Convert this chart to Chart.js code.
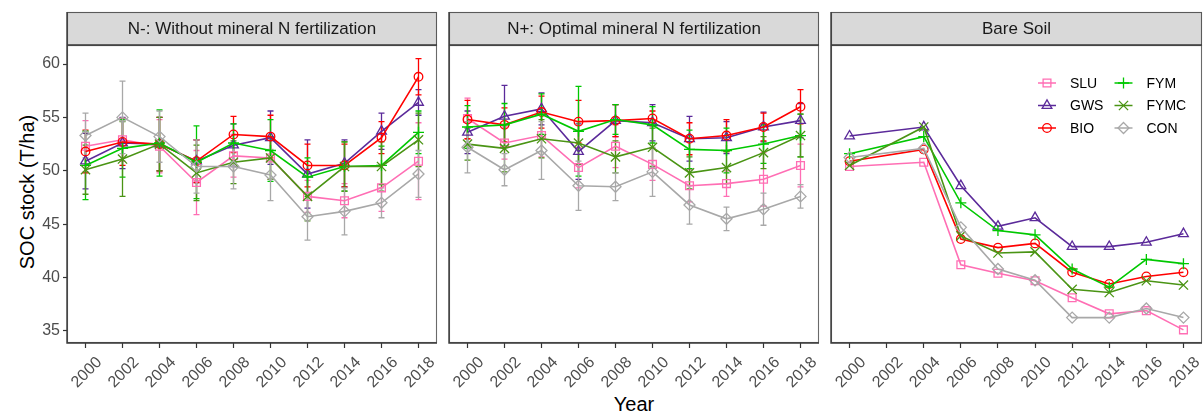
<!DOCTYPE html>
<html><head><meta charset="utf-8">
<script src="https://cdn.jsdelivr.net/npm/chart.js"></script>
<style>
html,body{margin:0;padding:0;background:#fff;width:1203px;height:416px;overflow:hidden;font-family:"Liberation Sans",Arial,Helvetica,sans-serif;}
canvas{position:absolute;top:0;}
#ytitle{position:absolute;left:27px;top:192px;transform:translate(-50%,-50%) rotate(-90deg);font-size:20px;white-space:nowrap;color:#000;}
#xtitle{position:absolute;left:634px;top:404px;transform:translate(-50%,-50%);font-size:20px;color:#000;white-space:nowrap;}
</style></head><body>
<div id="ytitle">SOC stock (T/ha)</div>
<div id="xtitle">Year</div>
<canvas id="c1"></canvas>
<canvas id="c2"></canvas>
<canvas id="c3"></canvas>
<script>
// ---------- data ----------
const years = [2000, 2002, 2004, 2006, 2008, 2010, 2012, 2014, 2016, 2018];
const yTicks = [35, 40, 45, 50, 55, 60];
const seriesNames = ['SLU', 'GWS', 'BIO', 'FYM', 'FYMC', 'CON'];
const panelTitles = ['N-: Without mineral N fertilization', 'N+: Optimal mineral N fertilization', 'Bare Soil'];

// Panel 1: N-
const nMinusSLU  = [52.3, 52.9, 52.3, 48.9, 51.4, 51.2, 47.6, 47.2, 48.4, 50.9];
const nMinusGWS  = [50.9, 52.6, 52.5, 50.9, 52.4, 53.1, 49.7, 50.7, 53.7, 56.4];
const nMinusBIO  = [51.8, 52.7, 52.5, 50.9, 53.4, 53.2, 50.5, 50.5, 53.1, 58.8];
const nMinusFYM  = [50.5, 52.1, 52.6, 50.8, 52.6, 51.9, 49.4, 50.4, 50.5, 53.6];
const nMinusFYMC = [50.1, 51.1, 52.5, 49.8, 50.8, 51.2, 47.6, 50.4, 50.4, 52.9];
const nMinusCON  = [53.3, 55.0, 53.2, 50.4, 50.4, 49.6, 45.7, 46.2, 47.0, 49.7];
const nMinusSLUsd  = [2.4, 2.0, 2.5, 3.0, 2.0, 2.0, 1.5, 1.6, 2.2, 3.6];
const nMinusGWSsd  = [2.6, 2.4, 2.5, 2.0, 2.0, 2.5, 3.2, 2.2, 1.7, 1.2];
const nMinusBIOsd  = [2.0, 2.2, 2.5, 2.0, 1.7, 2.0, 2.0, 2.0, 1.5, 1.7];
const nMinusFYMsd  = [3.2, 2.7, 3.1, 3.4, 1.8, 2.9, 1.8, 2.3, 1.8, 2.0];
const nMinusFYMCsd = [2.3, 3.5, 2.5, 2.6, 2.0, 2.0, 2.3, 2.3, 2.3, 2.5];
const nMinusCONsd  = [2.1, 3.4, 2.4, 2.5, 2.1, 2.4, 2.2, 2.2, 1.4, 2.2];

// Panel 2: N+
const nPlusSLU  = [54.9, 52.6, 53.3, 50.3, 52.3, 50.6, 48.6, 48.8, 49.2, 50.5];
const nPlusGWS  = [53.6, 55.1, 55.8, 51.8, 54.7, 54.5, 53.0, 53.1, 54.1, 54.7];
const nPlusBIO  = [54.8, 54.3, 55.5, 54.6, 54.7, 54.9, 53.0, 53.3, 54.1, 56.0];
const nPlusFYM  = [54.1, 54.3, 55.3, 53.7, 54.8, 54.3, 52.0, 51.9, 52.5, 53.3];
const nPlusFYMC = [52.5, 52.1, 53.0, 52.6, 51.3, 52.2, 49.8, 50.3, 51.7, 53.3];
const nPlusCON  = [52.2, 50.1, 51.9, 48.6, 48.5, 49.9, 46.8, 45.5, 46.4, 47.6];
const nPlusSLUsd  = [1.9, 1.5, 2.0, 1.9, 2.0, 1.5, 1.5, 1.2, 2.5, 2.0];
const nPlusGWSsd  = [2.0, 2.9, 1.5, 2.6, 1.5, 1.7, 2.1, 1.5, 1.4, 1.6];
const nPlusBIOsd  = [1.8, 1.6, 1.5, 2.0, 1.5, 0.7, 1.5, 1.5, 1.3, 1.6];
const nPlusFYMsd  = [2.0, 2.0, 1.9, 4.2, 1.4, 1.7, 1.8, 2.1, 1.8, 2.0];
const nPlusFYMCsd = [1.5, 2.2, 1.8, 2.0, 1.5, 1.8, 1.5, 1.5, 1.5, 2.0];
const nPlusCONsd  = [2.4, 1.5, 2.7, 2.3, 1.3, 2.3, 1.8, 1.1, 1.5, 1.1];

// Panel 3: Bare soil (no 2002 measurement)
const bareSLU  = [50.4, null, 50.8, 41.2, 40.4, 39.7, 38.1, 36.6, 36.9, 35.1];
const bareGWS  = [53.25, null, 54.1, 48.6, 44.8, 45.6, 42.9, 42.9, 43.3, 44.1];
const bareBIO  = [50.9, null, 52.0, 43.6, 42.8, 43.2, 40.5, 39.4, 40.1, 40.5];
const bareFYM  = [51.6, null, 53.2, 47.0, 44.4, 44.0, 40.8, 39.1, 41.7, 41.3];
const bareFYMC = [50.5, null, 54.1, 43.9, 42.3, 42.4, 38.9, 38.6, 39.7, 39.3];
const bareCON  = [51.25, null, 52.1, 44.7, 40.8, 39.75, 36.25, 36.25, 37.1, 36.25];

// ---------- styles ----------
const colors = {SLU:'#ff6eb4', GWS:'#5b2a9a', BIO:'#ff0000', FYM:'#00c800', FYMC:'#4a9414', CON:'#a8a8a8'};
const styles = {SLU:'rect', GWS:'triangle', BIO:'circle', FYM:'cross', FYMC:'crossRot', CON:'rectRot'};
const radii  = {SLU:5.5, GWS:5.6, BIO:4.3, FYM:5.5, FYMC:6.5, CON:5.5};

const panelsData = [
  {vals:[nMinusSLU,nMinusGWS,nMinusBIO,nMinusFYM,nMinusFYMC,nMinusCON],
   sds:[nMinusSLUsd,nMinusGWSsd,nMinusBIOsd,nMinusFYMsd,nMinusFYMCsd,nMinusCONsd]},
  {vals:[nPlusSLU,nPlusGWS,nPlusBIO,nPlusFYM,nPlusFYMC,nPlusCON],
   sds:[nPlusSLUsd,nPlusGWSsd,nPlusBIOsd,nPlusFYMsd,nPlusFYMCsd,nPlusCONsd]},
  {vals:[bareSLU,bareGWS,bareBIO,bareFYM,bareFYMC,bareCON], sds:null}
];

// layout of plot areas in page pixels
const panelBoxes = [{l:67, r:437}, {l:448.5, r:818.5}, {l:830.5, r:1201}];
const PLOT_TOP = 45, PLOT_BOTTOM = 343, STRIP_H = 33, AXW = 60, PADR = 24, H = 416;
const FONT = '"Liberation Sans", Arial, Helvetica, sans-serif';

function drawMarker(ctx, style, x, y, r) {
  ctx.beginPath();
  let s;
  switch (style) {
    case 'rect': s = r * Math.SQRT1_2; ctx.rect(x - s, y - s, 2*s, 2*s); break;
    case 'triangle':
      ctx.moveTo(x, y - r);
      ctx.lineTo(x + Math.sin(2*Math.PI/3)*r, y - Math.cos(2*Math.PI/3)*r);
      ctx.lineTo(x + Math.sin(4*Math.PI/3)*r, y - Math.cos(4*Math.PI/3)*r);
      ctx.closePath(); break;
    case 'circle': ctx.arc(x, y, r, 0, 2*Math.PI); break;
    case 'cross': ctx.moveTo(x, y-r); ctx.lineTo(x, y+r); ctx.moveTo(x-r, y); ctx.lineTo(x+r, y); break;
    case 'crossRot': s = r*Math.SQRT1_2; ctx.moveTo(x-s,y-s); ctx.lineTo(x+s,y+s); ctx.moveTo(x+s,y-s); ctx.lineTo(x-s,y+s); break;
    case 'rectRot': ctx.moveTo(x, y-r); ctx.lineTo(x+r, y); ctx.lineTo(x, y+r); ctx.lineTo(x-r, y); ctx.closePath(); break;
  }
  ctx.stroke();
}

const errorBarPlugin = {
  id: 'errorBars',
  beforeDatasetsDraw(chart) {
    const sds = chart.options.plugins.errorBars && chart.options.plugins.errorBars.sds;
    if (!sds) return;
    const ctx = chart.ctx, xs = chart.scales.x, ys = chart.scales.y;
    ctx.save();
    chart.data.datasets.forEach((ds, i) => {
      const sd = sds[i];
      ctx.strokeStyle = ds.borderColor;
      ctx.lineWidth = 1.3;
      ds.data.forEach((p, j) => {
        if (p.y == null) return;
        const x = xs.getPixelForValue(p.x);
        const y1 = ys.getPixelForValue(p.y - sd[j]);
        const y2 = ys.getPixelForValue(p.y + sd[j]);
        ctx.beginPath();
        ctx.moveTo(x, y1); ctx.lineTo(x, y2);
        ctx.moveTo(x - 3, y1); ctx.lineTo(x + 3, y1);
        ctx.moveTo(x - 3, y2); ctx.lineTo(x + 3, y2);
        ctx.stroke();
      });
    });
    ctx.restore();
  }
};

const framePlugin = {
  id: 'frame',
  afterDraw(chart) {
    const ctx = chart.ctx, a = chart.chartArea;
    const title = chart.options.plugins.frame.title;
    ctx.save();
    // strip
    ctx.fillStyle = '#d9d9d9';
    ctx.fillRect(a.left, a.top - STRIP_H, a.right - a.left, STRIP_H);
    ctx.strokeStyle = '#5a5a5a';
    ctx.lineWidth = 1.1;
    ctx.strokeRect(a.left + 0.5, a.top - STRIP_H + 0.5, a.right - a.left - 1, STRIP_H);
    ctx.fillStyle = '#1a1a1a';
    ctx.font = '17px ' + FONT;
    ctx.textAlign = 'center';
    ctx.textBaseline = 'middle';
    ctx.fillText(title, (a.left + a.right) / 2, a.top - STRIP_H / 2 + 1);
    // panel border
    ctx.strokeStyle = '#6a6a6a';
    ctx.lineWidth = 1.1;
    ctx.strokeRect(a.left + 0.5, a.top + 0.5, a.right - a.left - 1, a.bottom - a.top - 1);
    ctx.strokeStyle = '#3a3a3a';
    ctx.lineWidth = 1.4;
    ctx.beginPath();
    ctx.moveTo(a.left, a.top - STRIP_H); ctx.lineTo(a.left, a.bottom);
    ctx.lineTo(a.right, a.bottom);
    ctx.moveTo(a.left, a.top); ctx.lineTo(a.right, a.top);
    ctx.stroke();
    // rotated x tick labels, positioned from the x scale's ticks
    const xs = chart.scales.x;
    ctx.fillStyle = '#4d4d4d';
    ctx.font = '16px ' + FONT;
    ctx.textAlign = 'right';
    ctx.textBaseline = 'alphabetic';
    xs.ticks.forEach(t => {
      const px = xs.getPixelForValue(t.value);
      ctx.save();
      ctx.translate(px + 17, a.bottom + 20);
      ctx.rotate(-Math.PI / 4);
      ctx.fillText(String(t.value), 0, 0);
      ctx.restore();
    });
    ctx.restore();
  }
};

const legendPlugin = {
  id: 'customLegend',
  afterDraw(chart) {
    if (!chart.options.plugins.customLegend.show) return;
    const ctx = chart.ctx, a = chart.chartArea;
    ctx.save();
    ctx.font = '14px ' + FONT;
    ctx.textBaseline = 'middle';
    ctx.textAlign = 'left';
    const cols = [[0,1,2],[3,4,5]];
    const colX = [a.right - 155, a.right - 78.5];
    cols.forEach((col, ci) => {
      col.forEach((si, ri) => {
        const name = seriesNames[si];
        const cx = colX[ci], cy = a.top + 38 + ri * 22.5;
        ctx.strokeStyle = colors[name];
        ctx.lineWidth = 1.5;
        ctx.beginPath(); ctx.moveTo(cx - 9, cy); ctx.lineTo(cx + 9, cy); ctx.stroke();
        ctx.lineWidth = 1.3;
        drawMarker(ctx, styles[name], cx, cy, radii[name]);
        ctx.fillStyle = '#000';
        ctx.fillText(name, cx + 23, cy + 1);
      });
    });
    ctx.restore();
  }
};

function makeChart(id, idx) {
  const box = panelBoxes[idx];
  const canvas = document.getElementById(id);
  const w = Math.round(box.r - box.l) + AXW + PADR;
  canvas.width = w; canvas.height = H;
  canvas.style.width = w + 'px'; canvas.style.height = H + 'px';
  canvas.style.left = (box.l - AXW) + 'px';
  const pd = panelsData[idx];
  const datasets = seriesNames.map((name, i) => ({
    label: name,
    data: years.map((yr, j) => ({x: yr, y: pd.vals[i][j]})),
    borderColor: colors[name],
    backgroundColor: colors[name],
    borderWidth: 1.6,
    pointStyle: styles[name],
    pointRadius: radii[name],
    pointHoverRadius: radii[name],
    pointBorderWidth: 1.3,
    pointBackgroundColor: 'rgba(0,0,0,0)',
    pointBorderColor: colors[name],
    spanGaps: true,
    tension: 0,
    order: seriesNames.length - i
  }));
  const showY = idx === 0;
  return new Chart(canvas, {
    type: 'line',
    data: {datasets},
    options: {
      responsive: false,
      animation: false,
      devicePixelRatio: 1,
      layout: {padding: {top: PLOT_TOP, right: PADR, left: 0, bottom: 0}},
      plugins: {
        legend: {display: false},
        tooltip: {enabled: false},
        errorBars: {sds: pd.sds},
        frame: {title: panelTitles[idx]},
        customLegend: {show: idx === 2}
      },
      scales: {
        x: {
          type: 'linear', min: 1999, max: 2019,
          afterBuildTicks: (s) => { s.ticks = years.map(v => ({value: v})); },
          afterFit: (s) => { s.height = H - PLOT_BOTTOM; },
          ticks: {display: false, autoSkip: false, callback: (v) => String(v)},
          grid: {display: true, drawOnChartArea: false, drawTicks: true, tickLength: 5, tickColor: '#333', tickWidth: 1.2},
          border: {display: false}
        },
        y: {
          type: 'linear', min: 33.87, max: 61.78,
          afterBuildTicks: (s) => { s.ticks = yTicks.map(v => ({value: v})); },
          afterFit: (s) => { s.width = AXW; },
          ticks: {display: showY, padding: 3, color: '#4d4d4d', font: {size: 16, family: FONT},
                  callback: (v) => String(v)},
          grid: {display: showY, drawOnChartArea: false, drawTicks: true, tickLength: 4, tickColor: '#333', tickWidth: 1.2},
          border: {display: false}
        }
      }
    },
    plugins: [errorBarPlugin, framePlugin, legendPlugin]
  });
}

makeChart('c1', 0);
makeChart('c2', 1);
makeChart('c3', 2);
</script>
</body></html>
